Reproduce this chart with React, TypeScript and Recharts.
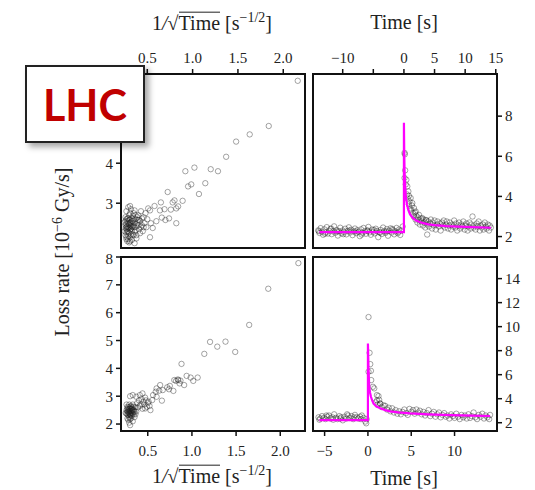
import React from "react";
import { ScatterChart, Scatter, XAxis, YAxis, ReferenceArea } from "recharts";

const serif = "'Liberation Serif', 'DejaVu Serif', serif";

// upper row: loss rate vs time around the step (t = 0)
const upperPre: [number, number][] = [
  [-14.0, 2.31], [-13.8, 2.18], [-13.6, 2.42], [-13.4, 2.25], [-13.2, 2.09], [-13.0, 2.36], [-12.8, 2.21], [-12.6, 2.47],
  [-12.4, 2.15], [-12.2, 2.29], [-12.0, 2.38], [-11.8, 2.12], [-11.6, 2.26], [-11.4, 2.51], [-11.2, 2.19], [-11.0, 2.33],
  [-10.8, 2.05], [-10.6, 2.27], [-10.4, 2.44], [-10.2, 2.16], [-10.0, 2.3], [-9.8, 2.22], [-9.6, 2.39], [-9.4, 2.11],
  [-9.2, 2.28], [-9.0, 2.46], [-8.8, 2.2], [-8.6, 2.34], [-8.4, 2.07], [-8.2, 2.25], [-8.0, 2.4], [-7.8, 2.17],
  [-7.6, 2.32], [-7.4, 2.23], [-7.2, 2.02], [-7.0, 2.36], [-6.8, 2.19], [-6.6, 2.43], [-6.4, 2.26], [-6.2, 2.14],
  [-6.0, 2.31], [-5.8, 2.48], [-5.6, 2.21], [-5.4, 2.09], [-5.2, 2.35], [-5.0, 2.24], [-4.8, 2.16], [-4.6, 2.39],
  [-4.4, 2.28], [-4.2, 1.97], [-4.0, 2.22], [-3.8, 2.33], [-3.6, 2.13], [-3.4, 2.45], [-3.2, 2.27], [-3.0, 2.18],
  [-2.8, 2.37], [-2.6, 2.04], [-2.4, 2.29], [-2.2, 2.41], [-2.0, 2.2], [-1.8, 2.32], [-1.6, 2.11], [-1.4, 2.26],
  [-1.2, 2.43], [-1.0, 2.17], [-0.8, 2.35], [-0.6, 2.08], [-0.4, 2.3], [-0.2, 2.5],
  [-13.9, 2.27], [-12.9, 2.14], [-11.9, 2.4], [-10.9, 2.25], [-9.9, 2.12], [-8.9, 2.3], [-7.9, 2.26], [-6.9, 2.1],
  [-5.9, 2.28], [-4.9, 2.33], [-3.9, 2.19], [-2.9, 2.25], [-1.9, 2.38], [-0.9, 2.24],
];
const upperPost: [number, number][] = [
  [0.1, 6.17], [0.15, 6.1], [0.1, 4.92], [0.4, 4.83], [0.55, 4.5], [0.72, 4.25], [0.82, 4.03], [1.1, 3.92],
  [1.37, 3.67], [1.64, 3.42], [1.92, 3.25], [2.46, 3.08], [3.0, 2.92], [3.56, 2.83], [3.8, 2.1],
  [0.2, 5.3], [0.3, 4.6], [0.5, 4.1], [0.6, 3.9], [0.8, 3.6], [0.9, 3.75], [1.0, 3.4], [1.2, 3.3], [1.3, 3.55],
  [1.5, 3.15], [1.6, 3.0], [1.8, 3.2], [1.9, 2.85], [2.0, 3.05], [2.2, 2.7], [2.3, 2.95], [2.5, 2.8], [2.6, 2.6],
  [2.8, 2.9], [2.9, 2.75], [3.1, 2.55], [3.2, 2.85], [3.4, 2.7], [3.5, 2.45], [3.7, 2.8], [3.8, 2.6], [4.0, 2.75],
  [4.1, 2.5], [4.3, 2.65], [4.4, 2.85], [4.6, 2.4], [4.7, 2.7], [4.9, 2.55], [5.0, 2.8], [5.2, 2.35], [5.4, 2.6],
  [5.5, 2.75], [5.7, 2.5], [5.9, 2.65], [6.0, 2.3], [6.2, 2.7], [6.4, 2.55], [6.5, 2.8], [6.7, 2.45], [6.9, 2.6],
  [7.0, 2.75], [7.2, 2.4], [7.4, 2.55], [7.5, 2.7], [7.7, 2.35], [7.9, 2.6], [8.0, 2.5], [8.2, 2.8], [8.4, 2.45],
  [8.5, 2.65], [8.7, 2.3], [8.9, 2.55], [9.0, 2.7], [9.2, 2.4], [9.4, 2.6], [9.5, 2.5], [9.7, 2.75], [9.9, 2.35],
  [10.0, 2.55], [10.2, 2.65], [10.4, 2.3], [10.5, 2.5], [10.7, 2.7], [10.9, 2.4], [11.0, 2.6], [11.2, 3.0],
  [11.4, 2.45], [11.5, 2.55], [11.7, 2.35], [11.9, 2.65], [12.0, 2.5], [12.2, 2.75], [12.4, 2.3], [12.5, 2.55],
  [12.7, 2.45], [12.9, 2.6], [13.0, 2.35], [13.2, 2.7], [13.4, 2.5], [13.5, 2.4], [13.7, 2.6], [13.9, 2.3],
  [14.0, 2.55], [14.2, 2.45],
];
const upperFit: [number, number][] = [
  [-13.8, 2.22], [0, 2.22], [0, 7.67], [0.05, 6.2], [0.1, 5.3], [0.2, 4.5], [0.3, 4.0], [0.5, 3.6], [0.75, 3.3],
  [1.0, 3.1], [1.5, 2.92], [2.0, 2.8], [3.0, 2.68], [4.0, 2.61], [5.0, 2.57], [7.0, 2.52], [10.0, 2.48], [14.2, 2.44],
];

// lower row
const lowerPre: [number, number][] = [
  [-5.7, 2.45], [-5.5, 2.35], [-5.3, 2.55], [-5.1, 2.4], [-4.9, 2.3], [-4.7, 2.5], [-4.5, 2.6], [-4.3, 2.35],
  [-4.1, 2.45], [-3.9, 2.7], [-3.7, 2.4], [-3.5, 2.3], [-3.3, 2.55], [-3.1, 2.45], [-2.9, 2.2], [-2.7, 2.5],
  [-2.5, 2.35], [-2.3, 2.6], [-2.1, 2.4], [-1.9, 2.55], [-1.7, 2.3], [-1.5, 2.65], [-1.3, 2.45], [-1.1, 2.35],
  [-0.9, 2.5], [-0.7, 2.6], [-0.5, 2.4], [-0.3, 2.1], [-0.15, 2.3], [-5.6, 2.25], [-4.8, 2.6], [-4.0, 2.25],
  [-3.2, 2.35], [-2.4, 2.7], [-1.6, 2.45], [-0.8, 2.3], [-0.2, 1.95],
];
const lowerPost: [number, number][] = [
  [0.07, 10.8], [0.19, 7.82], [0.27, 6.88], [0.35, 6.32], [0.07, 6.24], [0.38, 5.55], [0.58, 4.99], [0.73, 4.86],
  [1.22, 4.22], [1.04, 4.3], [1.05, 3.85], [1.4, 3.58], [1.8, 3.45], [1.42, 3.6], [0.9, 3.7], [1.1, 3.5],
  [1.3, 3.9], [1.6, 3.3], [2.0, 3.4], [2.2, 3.1], [2.4, 3.25], [2.6, 2.95], [2.8, 3.2], [3.0, 2.85], [3.2, 3.05],
  [3.4, 2.75], [3.6, 2.95], [3.8, 2.7], [4.0, 2.9], [4.2, 3.1], [4.4, 2.8], [4.6, 2.65], [4.8, 3.15], [5.0, 2.9],
  [5.2, 3.05], [5.4, 2.75], [5.6, 3.1], [5.8, 2.85], [6.0, 3.0], [6.2, 2.7], [6.4, 2.9], [6.6, 2.6], [6.8, 2.8],
  [7.0, 3.05], [7.2, 2.55], [7.4, 2.75], [7.6, 2.9], [7.8, 2.5], [8.0, 2.7], [8.2, 2.85], [8.4, 2.45], [8.6, 2.65],
  [8.8, 2.8], [9.0, 2.5], [9.2, 2.6], [9.4, 2.35], [9.6, 2.7], [9.8, 2.55], [10.0, 2.4], [10.2, 2.75], [10.4, 2.5],
  [10.6, 2.3], [10.8, 2.65], [11.0, 2.45], [11.2, 2.6], [11.4, 2.35], [11.6, 2.7], [11.8, 2.4], [12.0, 2.55],
  [12.2, 2.85], [12.4, 2.45], [12.6, 2.3], [12.8, 2.65], [13.0, 2.5], [13.2, 2.75], [13.4, 2.35], [13.6, 2.6],
  [13.8, 2.45], [14.0, 2.3], [14.1, 2.65],
];
const lowerFit: [number, number][] = [
  [-5.6, 2.22], [0, 2.22], [0, 8.6], [0.07, 6.5], [0.15, 5.0], [0.25, 4.5], [0.35, 4.16], [0.5, 3.85], [0.65, 3.6],
  [1.0, 3.35], [1.42, 3.2], [2.0, 3.05], [2.57, 2.95], [3.5, 2.86], [4.9, 2.78], [7.0, 2.7], [9.5, 2.64],
  [12.0, 2.59], [14.1, 2.56],
];

// loss rate vs 1/sqrt(t)
const upperInvSqrt: [number, number][] = [
  [2.16, 6.06], [1.84, 4.93], [1.63, 4.72], [1.48, 4.54], [1.37, 4.16], [1.02, 3.89], [0.92, 3.8], [1.2, 3.85],
  [1.28, 3.8], [1.14, 3.5], [0.985, 3.47], [0.95, 3.42], [1.07, 3.23], [0.725, 3.28], [0.89, 3.06], [0.8, 3.07],
  [0.78, 3.02], [0.65, 3.02], [0.58, 2.93], [0.84, 2.92], [0.82, 2.87], [0.76, 2.84], [0.69, 2.85], [0.64, 2.82],
  [0.53, 2.82], [0.51, 2.87], [0.74, 2.62], [0.7, 2.58], [0.66, 2.64], [0.82, 2.5], [0.6, 2.55], [0.54, 2.5],
  [0.56, 2.38], [0.53, 2.15], [0.31, 2.93],
  [0.26, 2.45], [0.27, 2.6], [0.28, 2.3], [0.29, 2.5], [0.3, 2.7], [0.26, 2.2], [0.27, 2.35], [0.28, 2.55],
  [0.29, 2.4], [0.3, 2.25], [0.31, 2.6], [0.32, 2.45], [0.33, 2.3], [0.34, 2.55], [0.35, 2.75], [0.36, 2.4],
  [0.37, 2.6], [0.38, 2.2], [0.39, 2.5], [0.4, 2.7], [0.41, 2.35], [0.42, 2.55], [0.43, 2.8], [0.44, 2.45],
  [0.45, 2.3], [0.46, 2.65], [0.47, 2.5], [0.48, 2.75], [0.49, 2.4], [0.5, 2.6], [0.27, 2.1], [0.28, 2.05],
  [0.3, 2.02], [0.31, 2.15], [0.33, 2.08], [0.35, 2.2], [0.36, 2.0], [0.38, 2.12], [0.26, 2.65], [0.27, 2.8],
  [0.29, 2.9], [0.31, 2.75], [0.32, 2.85], [0.34, 2.68], [0.36, 2.82], [0.28, 2.42], [0.3, 2.38], [0.32, 2.52],
  [0.33, 2.62], [0.29, 2.28], [0.31, 2.34], [0.27, 2.48], [0.35, 2.45], [0.37, 2.32], [0.4, 2.45], [0.42, 2.25],
  [0.44, 2.62], [0.46, 2.4], [0.39, 2.65], [0.41, 2.58],
  [0.25, 2.52], [0.26, 2.38], [0.27, 2.27], [0.28, 2.62], [0.29, 2.18], [0.3, 2.47], [0.31, 2.42], [0.32, 2.22],
  [0.33, 2.55], [0.34, 2.4], [0.35, 2.6], [0.36, 2.5], [0.37, 2.7], [0.38, 2.42], [0.26, 2.56], [0.28, 2.36],
  [0.3, 2.58], [0.32, 2.36], [0.34, 2.22], [0.36, 2.28], [0.27, 2.4], [0.29, 2.62], [0.31, 2.5], [0.33, 2.42],
  [0.25, 2.3], [0.27, 2.15], [0.29, 2.1], [0.31, 2.05], [0.4, 2.58], [0.43, 2.4],
];
const lowerInvSqrt: [number, number][] = [
  [2.205, 7.78], [1.864, 6.86], [1.648, 5.56], [1.205, 4.95], [1.38, 4.96], [1.287, 4.78], [1.49, 4.59],
  [1.14, 4.52], [0.882, 4.16], [0.94, 3.73], [0.985, 3.67], [1.065, 3.67], [1.015, 3.55], [0.912, 3.4],
  [0.84, 3.6], [0.87, 3.56], [0.82, 3.55], [0.8, 3.58], [0.845, 3.58], [0.86, 3.46], [0.75, 3.37], [0.72, 3.32],
  [0.79, 3.19], [0.74, 3.25], [0.64, 3.4], [0.6, 3.28], [0.63, 3.2], [0.59, 3.16], [0.67, 3.22], [0.56, 3.04],
  [0.6, 2.98], [0.66, 2.84], [0.55, 2.86], [0.44, 3.1], [0.41, 3.04], [0.37, 2.98], [0.33, 3.04], [0.3, 3.0],
  [0.51, 2.8], [0.49, 2.62], [0.47, 2.56], [0.53, 2.5], [0.3, 1.96],
  [0.26, 2.5], [0.27, 2.35], [0.28, 2.6], [0.29, 2.45], [0.3, 2.3], [0.31, 2.55], [0.32, 2.4], [0.33, 2.7],
  [0.34, 2.5], [0.35, 2.25], [0.36, 2.6], [0.37, 2.45], [0.27, 2.2], [0.28, 2.15], [0.29, 2.05], [0.3, 2.4],
  [0.31, 2.65], [0.32, 2.3], [0.33, 2.5], [0.34, 2.35], [0.26, 2.7], [0.28, 2.45], [0.3, 2.55], [0.32, 2.6],
  [0.29, 2.7], [0.31, 2.2], [0.33, 2.1], [0.35, 2.45], [0.36, 2.35], [0.27, 2.55], [0.3, 2.48], [0.28, 2.32],
  [0.32, 2.52], [0.34, 2.62], [0.38, 2.75], [0.4, 2.85], [0.42, 2.7], [0.43, 2.9], [0.45, 2.8], [0.47, 2.95],
  [0.39, 2.6], [0.41, 2.65], [0.44, 2.55], [0.46, 2.7], [0.48, 2.85], [0.5, 2.75], [0.52, 2.65], [0.25, 2.4],
  [0.27, 2.62], [0.29, 2.38],
  [0.28, 2.5], [0.29, 2.55], [0.3, 2.62], [0.31, 2.42], [0.32, 2.48], [0.33, 2.38], [0.27, 2.45], [0.3, 2.35],
  [0.29, 2.25], [0.31, 2.32], [0.28, 2.4], [0.32, 2.55], [0.26, 2.38], [0.34, 2.45], [0.3, 2.18],
];

const invTicks = [0.5, 1.0, 1.5, 2.0];
const upperTimeTicks = [-10, -5, 0, 5, 10, 15];
const lowerTimeTicks = [-5, 0, 5, 10];
const upperLeftRateTicks = [2, 3, 4];
const lowerLeftRateTicks = [2, 3, 4, 5, 6, 7, 8];
const upperRightRateTicks = [2, 4, 6, 8];
const lowerRightRateTicks = [2, 4, 6, 8, 10, 12, 14];

const toPts = (a: [number, number][]) => a.map(([x, y]) => ({ x, y }));
const minus = (s: string) => s.replace("-", "\u2212");

const Dot = (p: any) => (
  <circle cx={p.cx} cy={p.cy} r={2.7} fill="none" stroke="rgba(30,30,30,0.4)" strokeWidth={1} />
);
const NoDot = () => <g />;

const tickStyle = { fontSize: 15, fill: "#222", fontFamily: serif };

type PanelProps = {
  left: number;
  top: number;
  width: number;
  height: number;
  margin: { top: number; right: number; bottom: number; left: number };
  xSide: "top" | "bottom";
  ySide: "left" | "right";
  xH: number;
  yW: number;
  xDomain: [number, number];
  yDomain: [number, number];
  xTicks: number[];
  yTicks: number[];
  xFmt: (v: number) => string;
  points: { x: number; y: number }[];
  fit?: { x: number; y: number }[];
};

function Panel(p: PanelProps) {
  return (
    <div style={{ position: "absolute", left: p.left, top: p.top }}>
      <ScatterChart width={p.width} height={p.height} margin={p.margin}>
        <XAxis
          type="number"
          dataKey="x"
          orientation={p.xSide}
          height={p.xH}
          domain={p.xDomain}
          ticks={p.xTicks}
          allowDataOverflow
          tickFormatter={p.xFmt}
          tick={tickStyle}
          tickSize={5}
          tickMargin={p.xSide === "top" ? 6 : 9}
          axisLine={{ stroke: "#111", strokeWidth: 2 }}
          tickLine={{ stroke: "#111", strokeWidth: 1.5 }}
        />
        <YAxis
          type="number"
          dataKey="y"
          orientation={p.ySide}
          width={p.yW}
          domain={p.yDomain}
          ticks={p.yTicks}
          allowDataOverflow
          tick={tickStyle}
          tickSize={5}
          tickMargin={3}
          axisLine={{ stroke: "#111", strokeWidth: 2 }}
          tickLine={{ stroke: "#111", strokeWidth: 1.5 }}
        />
        <ReferenceArea
          x1={p.xDomain[0]}
          x2={p.xDomain[1]}
          y1={p.yDomain[0]}
          y2={p.yDomain[1]}
          fill="none"
          stroke="#111"
          strokeWidth={2}
          ifOverflow="visible"
        />
        <Scatter data={p.points} shape={Dot} isAnimationActive={false} />
        {p.fit && (
          <Scatter
            data={p.fit}
            shape={NoDot}
            line={{ stroke: "#ff00ff", strokeWidth: 2.2 }}
            isAnimationActive={false}
          />
        )}
      </ScatterChart>
    </div>
  );
}

const InvSqrtLabel = () => (
  <span>
    1<i>/</i>√
    <span style={{ display: "inline-block", lineHeight: 1.05, borderTop: "1.3px solid #222" }}>Time</span> [s
    <sup style={{ fontSize: "0.7em" }}>−1/2</sup>]
  </span>
);

const titleStyle: React.CSSProperties = {
  position: "absolute",
  fontFamily: serif,
  fontSize: 20,
  color: "#222",
  whiteSpace: "nowrap",
  transform: "translate(-50%, -50%)",
};

export default function App() {
  const f1 = (v: number) => v.toFixed(1);
  const fTime = (v: number) => minus(String(v));
  const fTimeTop = (v: number) => (v === -5 ? "" : minus(String(v)));
  return (
    <div style={{ position: "absolute", left: 0, top: 0, width: 535, height: 490, background: "#fff", overflow: "hidden" }}>
      <Panel
        left={0} top={0} width={310} height={250}
        margin={{ top: 0, right: 5, bottom: 2, left: 0 }}
        xSide="top" ySide="left" xH={74} yW={121}
        xDomain={[0.21, 2.24]} yDomain={[1.88, 6.23]}
        xTicks={invTicks} yTicks={upperLeftRateTicks} xFmt={f1}
        points={toPts(upperInvSqrt)}
      />
      <Panel
        left={310} top={0} width={225} height={250}
        margin={{ top: 0, right: 0, bottom: 2, left: 3 }}
        xSide="top" ySide="right" xH={74} yW={38}
        xDomain={[-14.85, 15.2]} yDomain={[1.43, 10.1]}
        xTicks={upperTimeTicks} yTicks={upperRightRateTicks} xFmt={fTimeTop}
        points={toPts([...upperPre, ...upperPost])}
        fit={toPts(upperFit)}
      />
      <Panel
        left={0} top={250} width={310} height={240}
        margin={{ top: 7, right: 5, bottom: 0, left: 0 }}
        xSide="bottom" ySide="left" xH={59} yW={121}
        xDomain={[0.197, 2.28]} yDomain={[1.75, 8]}
        xTicks={invTicks} yTicks={lowerLeftRateTicks} xFmt={f1}
        points={toPts(lowerInvSqrt)}
      />
      <Panel
        left={310} top={250} width={225} height={240}
        margin={{ top: 7, right: 0, bottom: 0, left: 3 }}
        xSide="bottom" ySide="right" xH={59} yW={38}
        xDomain={[-6.34, 14.9]} yDomain={[1.31, 15.8]}
        xTicks={lowerTimeTicks} yTicks={lowerRightRateTicks} xFmt={fTime}
        points={toPts([...lowerPre, ...lowerPost])}
        fit={toPts(lowerFit)}
      />

      <div style={{ ...titleStyle, left: 212, top: 22 }}><InvSqrtLabel /></div>
      <div style={{ ...titleStyle, left: 404, top: 22 }}>Time [s]</div>
      <div style={{ ...titleStyle, left: 212, top: 475 }}><InvSqrtLabel /></div>
      <div style={{ ...titleStyle, left: 404, top: 478 }}>Time [s]</div>
      <div style={{ ...titleStyle, left: 62, top: 252, transform: "translate(-50%, -50%) rotate(-90deg)" }}>
        Loss rate [10<sup style={{ fontSize: "0.7em" }}>−6</sup> Gy/s]
      </div>

      <div
        style={{
          position: "absolute",
          left: 25,
          top: 65,
          width: 116,
          height: 74,
          background: "#fff",
          border: "2px solid #222",
          boxShadow: "4px 4px 6px rgba(0,0,0,0.35)",
          display: "flex",
          alignItems: "center",
          justifyContent: "center",
          fontFamily: "Lato, 'Open Sans', sans-serif",
          fontWeight: 700,
          fontSize: 43,
          color: "#c00000",
        }}
      >
        LHC
      </div>
    </div>
  );
}
